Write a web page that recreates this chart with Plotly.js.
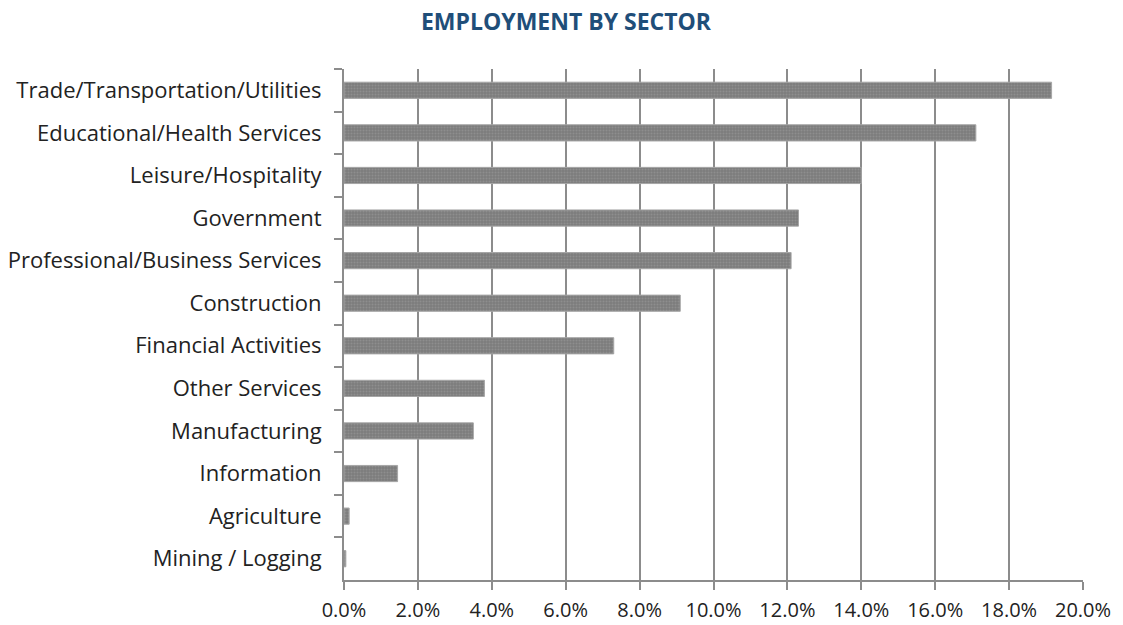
<!DOCTYPE html>
<html>
<head>
<meta charset="utf-8">
<script src="https://cdn.plot.ly/plotly-3.0.1.min.js"></script>
<style>html,body{margin:0;padding:0;background:#fff;}#chart{width:1123px;height:625px;}</style>
</head>
<body>
<div id="chart"></div>
<script>
const sectors = [
  "Trade/Transportation/Utilities",
  "Educational/Health Services",
  "Leisure/Hospitality",
  "Government",
  "Professional/Business Services",
  "Construction",
  "Financial Activities",
  "Other Services",
  "Manufacturing",
  "Information",
  "Agriculture",
  "Mining / Logging"
];
const shares = [19.15, 17.1, 14.0, 12.3, 12.1, 9.1, 7.3, 3.8, 3.5, 1.45, 0.14, 0.05];
const xTickVals = [0, 2, 4, 6, 8, 10, 12, 14, 16, 18, 20];
const xTickText = ["0.0%", "2.0%", "4.0%", "6.0%", "8.0%", "10.0%", "12.0%", "14.0%", "16.0%", "18.0%", "20.0%"];

const trace = {
  type: "bar",
  orientation: "h",
  x: shares,
  y: sectors,
  marker: {
    color: "#808080",
    line: { color: "#a6a6a6", width: 1 },
    pattern: { shape: ".", fgcolor: "#8e8e8e", bgcolor: "#7c7c7c", size: 3, solidity: 0.4 }
  },
  hoverinfo: "none"
};

const layout = {
  width: 1123,
  height: 625,
  margin: { l: 344, r: 40, t: 69, b: 45 },
  paper_bgcolor: "#ffffff",
  plot_bgcolor: "#ffffff",
  showlegend: false,
  bargap: 0.62,
  title: {
    text: "<b>EMPLOYMENT BY SECTOR</b>",
    font: { family: "Open Sans, Liberation Sans, sans-serif", size: 23, color: "#1f4e79" },
    x: 0.504, xanchor: "center", y: 0.965, yanchor: "middle"
  },
  xaxis: {
    range: [0, 20],
    tickvals: xTickVals,
    ticktext: xTickText,
    showgrid: true,
    gridcolor: "#8c8c8c",
    gridwidth: 2,
    showline: true,
    linecolor: "#8c8c8c",
    linewidth: 2,
    ticks: "outside",
    ticklen: 8,
    tickwidth: 2,
    tickcolor: "#8c8c8c",
    ticklabelstandoff: 3,
    zeroline: false,
    fixedrange: true,
    tickfont: { family: "Open Sans, sans-serif", size: 20, color: "#222222" }
  },
  yaxis: {
    type: "category",
    autorange: "reversed",
    showgrid: false,
    showline: true,
    linecolor: "#8c8c8c",
    linewidth: 2,
    ticks: "outside",
    tickson: "boundaries",
    ticklen: 8,
    tickwidth: 2,
    tickcolor: "#8c8c8c",
    ticklabelstandoff: 16,
    fixedrange: true,
    tickfont: { family: "Open Sans, sans-serif", size: 22, color: "#222222" }
  }
};

Plotly.newPlot("chart", [trace], layout, { displayModeBar: false, staticPlot: true });
</script>
</body>
</html>
